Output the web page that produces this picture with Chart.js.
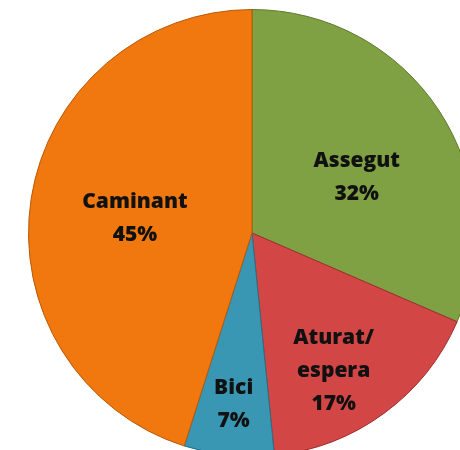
<!DOCTYPE html>
<html>
<head>
<meta charset="utf-8">
<script src="https://cdn.jsdelivr.net/npm/chart.js@4"></script>
<style>
html,body{margin:0;padding:0;background:#fff;overflow:hidden;}
#wrap{position:absolute;left:0;top:0;width:504px;height:466px;}
</style>
</head>
<body>
<div id="wrap"><canvas id="c" width="504" height="466"></canvas></div>
<script>
const categories = ['Assegut', 'Aturat/\nespera', 'Bici', 'Caminant'];
const values = [31.5, 16.9, 6.5, 45.1];
const colors = ['#80A044', '#D24646', '#3A97B3', '#F0780F'];
const edgeColors = ['#5E7A2C', '#9E2E2E', '#266E85', '#B85808'];
const rimColors = ['#8DAF50', '#DE5757', '#4AA6C2', '#F78A25'];

const total = values.reduce((a, b) => a + b, 0);

function bevelFill(ctx) {
  const el = ctx.element;
  const i = ctx.dataIndex;
  if (!el || el.outerRadius === undefined || !el.outerRadius) return colors[i];
  const c = ctx.chart.ctx;
  const g = c.createRadialGradient(el.x, el.y, 0, el.x, el.y, el.outerRadius);
  g.addColorStop(0, colors[i]);
  g.addColorStop(0.90, colors[i]);
  g.addColorStop(0.955, rimColors[i]);
  g.addColorStop(0.985, colors[i]);
  g.addColorStop(1, edgeColors[i]);
  return g;
}

const labelPlugin = {
  id: 'sliceLabels',
  afterDatasetsDraw(chart, args, opts) {
    const meta = chart.getDatasetMeta(0);
    const ctx = chart.ctx;
    ctx.save();
    ctx.fillStyle = '#111111';
    ctx.font = '800 21px "Open Sans", Lato, sans-serif';
    ctx.textAlign = 'center';
    ctx.textBaseline = 'middle';
    meta.data.forEach((arc, i) => {
      const mid = (arc.startAngle + arc.endAngle) / 2;
      const r = arc.outerRadius * opts.radius[i];
      const x = arc.x + Math.cos(mid) * r + opts.shift[i][0];
      const y = arc.y + Math.sin(mid) * r + opts.shift[i][1];
      const lines = categories[i].split('\n').concat([Math.round(values[i] / total * 100) + '%']);
      const lh = 33;
      const y0 = y - (lines.length - 1) * lh / 2;
      lines.forEach((t, k) => ctx.fillText(t, x, y0 + k * lh));
    });
    ctx.restore();
  }
};

new Chart(document.getElementById('c'), {
  type: 'pie',
  data: {
    labels: categories,
    datasets: [{
      data: values,
      backgroundColor: bevelFill,
      borderColor: edgeColors,
      borderWidth: 1
    }]
  },
  options: {
    responsive: false,
    animation: false,
    layout: { padding: { left: 28, right: 28, top: 9, bottom: 9 } },
    plugins: {
      legend: { display: false },
      tooltip: { enabled: false },
      sliceLabels: {
        radius: [0.55, 0.71, 0.75, 0.53],
        shift: [[2, 12], [-12, 10], [-1, 5], [0, 4]]
      }
    }
  },
  plugins: [labelPlugin]
});
</script>
</body>
</html>
